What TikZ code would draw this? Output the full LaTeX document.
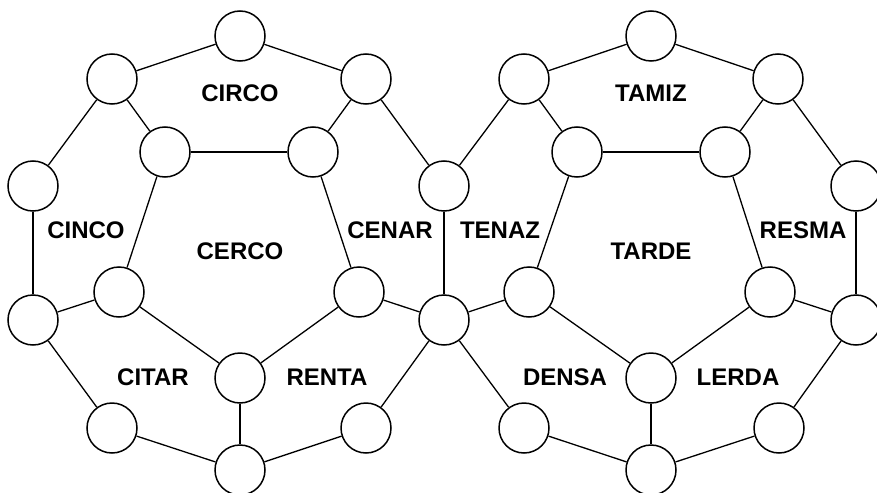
\documentclass[tikz,border=0pt]{standalone}
\usepackage{fontspec}
\setmainfont{Liberation Sans}
\newcommand{\Lien}[2]{
\draw[Arete] (#1) -- (#2);
}
\tikzset{Sommet/.style={draw,black,circle,minimum size=50pt,inner sep=0pt,line width=1.5pt,fill=white}}
\tikzset{Mot/.style={font=\fontsize{24}{24}\selectfont\bfseries,inner sep=0pt}}
\tikzset{Arete/.style={black,line width=1.3pt}}

\begin{document}
\begin{tikzpicture}[x=1pt,y=-1pt]
\useasboundingbox (0,0) rectangle (877,492);

% sommets partagés
\node[Sommet] (M1) at (444,186) {};
\node[Sommet] (M2) at (444,320) {};

% dodécagone gauche
\node[Sommet] (GH) at (240,36) {};
\node[Sommet] (GHG) at (112,79) {};
\node[Sommet] (GHD) at (366,79) {};
\node[Sommet] (GIG) at (165,152) {};
\node[Sommet] (GID) at (313,152) {};
\node[Sommet] (GG) at (33,186) {};
\node[Sommet] (GBG) at (119,292) {};
\node[Sommet] (GBD) at (359,292) {};
\node[Sommet] (GG2) at (33,320) {};
\node[Sommet] (GC) at (240,378) {};
\node[Sommet] (GLG) at (112,428) {};
\node[Sommet] (GLD) at (366,428) {};
\node[Sommet] (GB) at (240,470) {};

% dodécagone droit
\node[Sommet] (DH) at (651,36) {};
\node[Sommet] (DHG) at (524,79) {};
\node[Sommet] (DHD) at (778,79) {};
\node[Sommet] (DIG) at (577,152) {};
\node[Sommet] (DID) at (725,152) {};
\node[Sommet] (DD) at (856,186) {};
\node[Sommet] (DBG) at (529,292) {};
\node[Sommet] (DBD) at (770,292) {};
\node[Sommet] (DD2) at (856,320) {};
\node[Sommet] (DC) at (651,378) {};
\node[Sommet] (DLG) at (524,428) {};
\node[Sommet] (DLD) at (779,428) {};
\node[Sommet] (DB) at (651,470) {};

\Lien{GG}{GHG}
\Lien{GHG}{GH}
\Lien{GH}{GHD}
\Lien{GHD}{M1}
\Lien{GHG}{GIG}
\Lien{GHD}{GID}
\Lien{GIG}{GID}
\Lien{GIG}{GBG}
\Lien{GID}{GBD}
\Lien{GG}{GG2}
\Lien{M1}{M2}
\Lien{GBG}{GG2}
\Lien{GBD}{M2}
\Lien{GBG}{GC}
\Lien{GC}{GBD}
\Lien{GC}{GB}
\Lien{GG2}{GLG}
\Lien{GLG}{GB}
\Lien{GB}{GLD}
\Lien{GLD}{M2}

\Lien{M1}{DHG}
\Lien{DHG}{DH}
\Lien{DH}{DHD}
\Lien{DHD}{DD}
\Lien{DHG}{DIG}
\Lien{DHD}{DID}
\Lien{DIG}{DID}
\Lien{DIG}{DBG}
\Lien{DID}{DBD}
\Lien{DD}{DD2}
\Lien{DBG}{M2}
\Lien{DBD}{DD2}
\Lien{DBG}{DC}
\Lien{DC}{DBD}
\Lien{DC}{DB}
\Lien{M2}{DLG}
\Lien{DLG}{DB}
\Lien{DB}{DLD}
\Lien{DLD}{DD2}

% mots
\node[Mot] (circo) at (240,93) {CIRCO};
\node[Mot] (cinco) at (86,230) {CINCO};
\node[Mot] (cerco) at (240,251) {CERCO};
\node[Mot] (cenar) at (390,230) {CENAR};
\node[Mot] (citar) at (153,377) {CITAR};
\node[Mot] (renta) at (327,377) {RENTA};
\node[Mot] (tamiz) at (651,93) {TAMIZ};
\node[Mot] (tenaz) at (500,230) {TENAZ};
\node[Mot] (tarde) at (651,251) {TARDE};
\node[Mot] (resma) at (803,230) {RESMA};
\node[Mot] (densa) at (565,377) {DENSA};
\node[Mot] (lerda) at (738,377) {LERDA};

\end{tikzpicture}
\end{document}
